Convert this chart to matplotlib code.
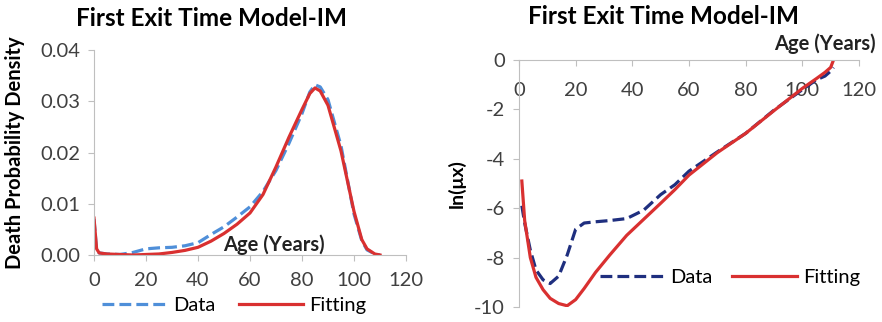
import matplotlib
matplotlib.use('Agg')
import matplotlib.pyplot as plt
import numpy as np

plt.rcParams['font.family'] = ['Lato', 'DejaVu Sans']
plt.rcParams['axes.unicode_minus'] = False

# 左: 死亡確率密度
age_l = [0, 1, 2, 5, 10, 15, 20, 25, 30, 35, 40, 45, 50, 55, 60, 65, 70, 75, 80, 83, 85, 87, 90, 95, 100, 103, 105, 108, 110]
data_l = [0.0070, 0.0010, 0.0004, 0.0002, 0.0001, 0.0005, 0.0012, 0.0014, 0.0015, 0.0018, 0.0024, 0.0040, 0.0055, 0.0074, 0.0094,
          0.0124, 0.0165, 0.0218, 0.0276, 0.0318, 0.0332, 0.0328, 0.0303, 0.0213, 0.0080, 0.0028, 0.0010, 0.0002, 0.0]
fit_l = [0.0072, 0.0012, 0.0004, 0.0002, 0.0001, 0.0000, 0.0001, 0.0002, 0.0005, 0.0009, 0.0015, 0.0027, 0.0042, 0.0060, 0.0082,
         0.0118, 0.0172, 0.0230, 0.0284, 0.0315, 0.0326, 0.0320, 0.0292, 0.0203, 0.0085, 0.0030, 0.0012, 0.0002, 0.0]

# 右: ln(μx)
age_r = [1, 2, 4, 6, 8.5, 11, 14, 17, 20, 23, 27, 32, 38, 44, 50, 55, 60, 70, 80, 90, 100, 105, 108, 110, 111]
data_r = [-5.9, -6.6, -7.7, -8.5, -8.9, -9.05, -8.75, -7.9, -6.85, -6.6, -6.55, -6.5, -6.42, -6.08, -5.45, -5.05, -4.5,
          -3.72, -2.97, -2.03, -1.2, -0.8, -0.65, -0.45, -0.3]
fit_r = [-4.9, -6.5, -8.0, -8.8, -9.3, -9.65, -9.86, -9.95, -9.7, -9.25, -8.6, -7.9, -7.1, -6.45, -5.8, -5.25, -4.66,
         -3.75, -2.97, -2.05, -1.15, -0.75, -0.5, -0.3, 0.0]

red = '#d93030'
blue_l = '#4f8fd9'
blue_r = '#1f2f7f'
gray = '#bfbfbf'
txt = '#404040'

fig = plt.figure(figsize=(8.82, 3.22), dpi=100)
ax1 = fig.add_axes([94/882, 1-255/322, 312/882, 205/322])
ax2 = fig.add_axes([519/882, 1-307/322, 340/882, 247/322])

# 左のグラフ
ax1.plot(age_l, data_l, '--', color=blue_l, lw=2.3, label='Data')
ax1.plot(age_l, fit_l, '-', color=red, lw=2.3, label='Fitting')
ax1.set_xlim(0, 120)
ax1.set_ylim(0, 0.04)
ax1.set_xticks(range(0, 121, 20))
ax1.set_yticks([0, 0.01, 0.02, 0.03, 0.04])
ax1.set_yticklabels(['0.00', '0.01', '0.02', '0.03', '0.04'])
ax1.set_title('First Exit Time Model-IM', fontsize=17.5, fontweight='bold', pad=17, x=0.375)
ax1.set_ylabel('Death Probability Density', fontsize=14.5, fontweight='bold')
ax1.yaxis.set_label_coords(-0.222, 0.5)
ax1.text(0.577, 0.05, 'Age (Years)', transform=ax1.transAxes, ha='center', va='center',
         fontsize=14.5, fontweight='bold', color='#222222')
ax1.legend(loc='center', bbox_to_anchor=(0.45, -0.245), ncol=2, frameon=False,
           fontsize=14.5, handlelength=3.2, columnspacing=1.2, handletextpad=0.3)
ax1.tick_params(axis='x', pad=8)

# 右のグラフ
ax2.plot(age_r, data_r, '--', color=blue_r, lw=2.3, label='Data')
ax2.plot(age_r, fit_r, '-', color=red, lw=2.3, label='Fitting')
ax2.set_xlim(0, 120)
ax2.set_ylim(-10, 0)
ax2.set_xticks(range(0, 121, 20))
ax2.set_yticks(range(-10, 1, 2))
ax2.spines['bottom'].set_position(('data', 0))
ax2.set_title('First Exit Time Model-IM', fontsize=17.5, fontweight='bold', pad=26, x=0.424)
ax2.set_ylabel('ln(μx)', fontsize=14, fontweight='bold')
ax2.yaxis.set_label_coords(-0.156, 0.5)
ax2.text(1.05, 1.065, 'Age (Years)', transform=ax2.transAxes, ha='right', va='center',
         fontsize=14.5, fontweight='bold', color='#222222')
ax2.legend(loc='center', bbox_to_anchor=(0.62, 0.12), ncol=2, frameon=False,
           fontsize=14.5, handlelength=3.2, columnspacing=1.0, handletextpad=0.3)
ax2.tick_params(axis='x', pad=12)

for ax in (ax1, ax2):
    ax.spines['top'].set_visible(False)
    ax.spines['right'].set_visible(False)
    ax.spines['left'].set_color(gray)
    ax.spines['bottom'].set_color(gray)
    ax.tick_params(colors=gray, labelcolor=txt, labelsize=14.5, length=4)
    ax.tick_params(axis='y', pad=6)

fig.savefig('out.png', dpi=100)
